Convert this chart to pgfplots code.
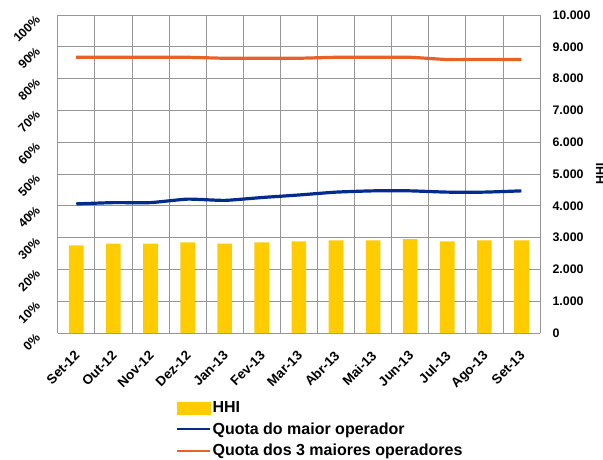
\documentclass[border=0pt]{standalone}
\usepackage{pgfplots}
\pgfplotsset{compat=1.18}
\usepackage{fontspec}
\setmainfont{Liberation Sans}
\definecolor{hhi}{RGB}{255,204,0}
\definecolor{qblue}{RGB}{0,45,140}
\definecolor{qorange}{RGB}{232,98,40}
\definecolor{gridgray}{RGB}{150,150,150}
\pgfplotstableread{
x hhi q1 q3
0  2757 40.6 86.7
1  2809 41.0 86.7
2  2809 41.0 86.7
3  2851 42.1 86.7
4  2809 41.7 86.4
5  2851 42.6 86.4
6  2883 43.4 86.4
7  2914 44.3 86.7
8  2914 44.7 86.7
9  2956 44.7 86.7
10 2883 44.3 86.0
11 2914 44.3 86.0
12 2914 44.7 86.0
}\data
\begin{document}
\begin{tikzpicture}
\useasboundingbox (0,0) rectangle (603pt,459pt);
\pgfplotsset{
  base/.style={
    scale only axis, width=482.3pt, height=318pt,
    at={(57.7pt,126pt)}, anchor=south west,
    xmin=-0.5, xmax=12.5,
    major tick length=0pt, minor tick length=0pt,
    tick label style={font=\bfseries\fontsize{12.4}{14}\selectfont},
  }
}
% right axis with bars and grid
\begin{axis}[base,
  ymin=0, ymax=10000,
  scaled y ticks=false,
  axis y line*=right,
  axis x line*=bottom,
  axis line style={gridgray},
  ytick={0,1000,...,10000},
  yticklabels={0,1.000,2.000,3.000,4.000,5.000,6.000,7.000,8.000,9.000,10.000},
  yticklabel style={anchor=west, xshift=9pt},
  ymajorgrids, major grid style={gridgray, line width=0.8pt},
  xtick={0,...,12},
  xticklabels={Set-12,Out-12,Nov-12,Dez-12,Jan-13,Fev-13,Mar-13,Abr-13,Mai-13,Jun-13,Jul-13,Ago-13,Set-13},
  xticklabel style={font=\bfseries\fontsize{13.4}{15}\selectfont, xshift=-2.4pt, yshift=-12pt, rotate=45, anchor=north east},
  minor xtick={-0.5,0.5,...,12.5},
  xminorgrids, minor grid style={gridgray, line width=0.8pt},
  ylabel={\bfseries HHI},
  ylabel style={at={(axis description cs:1.125,0.5)}, anchor=center, rotate=0, font=\bfseries\fontsize{12.4}{14}\selectfont},
]
\addplot[ybar, bar width=14.6pt, fill=hhi, draw=none] table[x=x, y=hhi] {\data};
\end{axis}
% left axis with lines
\begin{axis}[base,
  ymin=0, ymax=100,
  axis y line*=left,
  axis x line=none,
  axis line style={gridgray},
  ytick={0,10,...,100},
  yticklabels={0\%,10\%,20\%,30\%,40\%,50\%,60\%,70\%,80\%,90\%,100\%},
  yticklabel style={xshift=-22.8pt, yshift=5.6pt, rotate=45, anchor=north east},
  legend style={at={(0.245,-0.212)}, anchor=north west, draw=none, fill=none,
    font=\bfseries\fontsize{16}{18}\selectfont, row sep=6.5pt,
    inner sep=0pt, nodes={inner sep=1pt}},
  legend cell align=left,
]
\addlegendimage{legend image code/.code={\fill[hhi] (0pt,-6pt) rectangle (33pt,6pt);}}
\addlegendentry{HHI}
\addplot[qblue, line width=3.2pt, smooth, tension=0.3,
  legend image code/.code={\draw[qblue, line width=2.5pt] (0pt,0pt) -- (33pt,0pt);}] table[x=x, y=q1] {\data};
\addlegendentry{Quota do maior operador}
\addplot[qorange, line width=3.2pt, smooth, tension=0.3,
  legend image code/.code={\draw[qorange, line width=2.5pt] (0pt,0pt) -- (33pt,0pt);}] table[x=x, y=q3] {\data};
\addlegendentry{Quota dos 3 maiores operadores}
\end{axis}
\end{tikzpicture}
\end{document}
